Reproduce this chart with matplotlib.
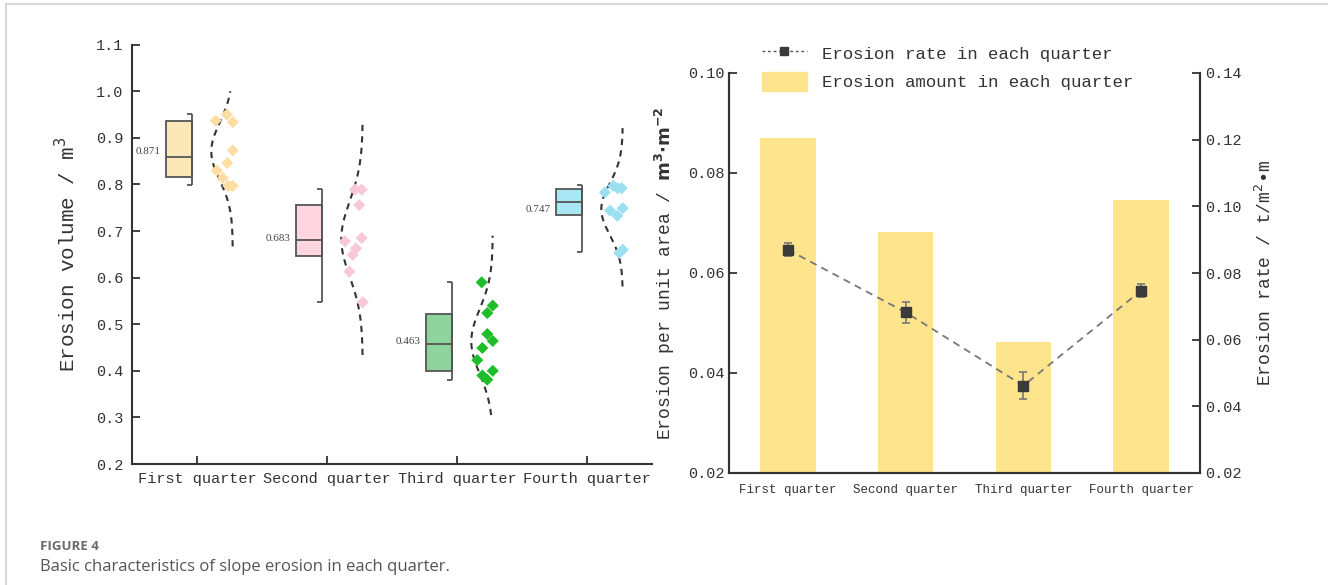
import numpy as np
import matplotlib.pyplot as plt
from matplotlib.lines import Line2D
from matplotlib.patches import Patch

quarters = ['First quarter', 'Second quarter', 'Third quarter', 'Fourth quarter']

# left panel: erosion volume (m3) of each event, per quarter
vol_q1 = [0.937, 0.950, 0.934, 0.873, 0.846, 0.830, 0.814, 0.797, 0.797]
vol_q2 = [0.789, 0.789, 0.756, 0.678, 0.685, 0.663, 0.649, 0.613, 0.547]
vol_q3 = [0.590, 0.540, 0.524, 0.479, 0.464, 0.449, 0.423, 0.400, 0.390, 0.381]
vol_q4 = [0.783, 0.797, 0.792, 0.792, 0.744, 0.733, 0.749, 0.660, 0.653]
volumes = [vol_q1, vol_q2, vol_q3, vol_q4]

# horizontal scatter of the points (offset from the category tick)
jit_q1 = [0.144, 0.229, 0.275, 0.275, 0.233, 0.152, 0.198, 0.241, 0.275]
jit_q2 = [0.215, 0.267, 0.248, 0.138, 0.267, 0.223, 0.198, 0.172, 0.275]
jit_q3 = [0.190, 0.275, 0.233, 0.233, 0.275, 0.195, 0.156, 0.275, 0.195, 0.233]
jit_q4 = [0.138, 0.202, 0.236, 0.267, 0.177, 0.233, 0.275, 0.275, 0.248]
jitters = [jit_q1, jit_q2, jit_q3, jit_q4]

box_q1 = [0.815, 0.647, 0.400, 0.735]
box_q3 = [0.937, 0.756, 0.522, 0.790]
box_med = [0.859, 0.680, 0.457, 0.763]
whisk_lo = [0.798, 0.547, 0.380, 0.654]
whisk_hi = [0.951, 0.790, 0.590, 0.799]
means = [0.871, 0.683, 0.463, 0.747]
curve_lo = [0.667, 0.434, 0.305, 0.581]
curve_hi = [1.000, 0.932, 0.690, 0.921]

box_colors = ['#FDE7B8', '#FDD6E1', '#8FD39F', '#A9E7F5']
pt_colors = ['#FEDDA3', '#F9C8D8', '#1DBE2A', '#9BE0F1']

# right panel
amount = [0.0870, 0.0682, 0.0462, 0.0747]
rate = [0.0870, 0.0682, 0.0462, 0.0747]
rate_err = [0.0020, 0.0032, 0.0040, 0.0020]

mono = 'Liberation Mono'
txt = '#333333'

fig = plt.figure(figsize=(13.28, 5.85), dpi=100)

# ---------------- left panel ----------------
ax = fig.add_axes([132 / 1328, 1 - 464 / 585, 520 / 1328, 419.3 / 585])
pos = np.arange(1, 5)
for i in range(4):
    x = pos[i]
    bl, br = x - 0.24, x - 0.035
    ax.bar(x - 0.1375, box_q3[i] - box_q1[i], bottom=box_q1[i], width=0.205,
           color=box_colors[i], edgecolor='#555555', linewidth=1.3, zorder=2)
    ax.hlines(box_med[i], bl, br, color='#555555', lw=1.3, zorder=3)
    ax.vlines(br, whisk_lo[i], whisk_hi[i], color='#555555', lw=1.3, zorder=3)
    ax.hlines([whisk_lo[i], whisk_hi[i]], br - 0.045, br, color='#555555', lw=1.3, zorder=3)
    ax.text(bl - 0.04, means[i], f'{means[i]:.3f}', ha='right', va='center',
            fontsize=8, family='Liberation Serif', color='#444444')
    # fitted normal curve
    s = np.std(volumes[i], ddof=1)
    yy = np.linspace(curve_lo[i], curve_hi[i], 200)
    xx = x + 0.275 - 0.165 * np.exp(-0.5 * ((yy - means[i]) / s) ** 2)
    ax.plot(xx, yy, color='#333333', lw=1.5, ls=(0, (3, 2.5)), zorder=3)
    ax.scatter(x + np.array(jitters[i]), volumes[i], marker='D', s=38,
               color=pt_colors[i], edgecolors='none', zorder=4)

ax.set_xlim(0.5, 4.5)
ax.set_ylim(0.2, 1.1)
ax.set_yticks(np.arange(0.2, 1.101, 0.1))
ax.set_yticklabels([f'{v:.1f}' for v in np.arange(0.2, 1.101, 0.1)], family=mono, fontsize=11, color=txt)
ax.set_xticks(pos)
ax.set_xticklabels(quarters, family=mono, fontsize=11, color=txt)
ax.tick_params(direction='in', length=6, width=1.3, color='#333333', pad=6)
for sp in ['top', 'right']:
    ax.spines[sp].set_visible(False)
for sp in ['left', 'bottom']:
    ax.spines[sp].set_linewidth(1.5)
    ax.spines[sp].set_color('#333333')
ax.set_ylabel(r'Erosion volume / m$^3$', family=mono, fontsize=15, color=txt, labelpad=12)

# ---------------- right panel ----------------
xs = np.arange(4)
ax2 = fig.add_axes([729 / 1328, 1 - 473 / 585, 471 / 1328, 400 / 585])
ax2.bar(xs, amount, width=0.47, color='#FEE48C', zorder=1)
ax2.set_xlim(-0.5, 3.5)
ax2.set_ylim(0.02, 0.10)
ax2.set_yticks([0.02, 0.04, 0.06, 0.08, 0.10])
ax2.set_yticklabels(['0.02', '0.04', '0.06', '0.08', '0.10'], family=mono, fontsize=11, color=txt)
ax2.set_xticks(xs)
ax2.set_xticklabels(quarters, family=mono, fontsize=9, color=txt)
ax2.tick_params(axis='y', direction='in', length=6, width=1.3, color='#333333')
ax2.tick_params(axis='x', length=0, pad=8)
ax2.set_ylabel(r'Erosion per unit area / $\mathbf{m^3{\cdot}m^{-2}}$', family=mono, fontsize=13, color=txt, labelpad=8)

ax3 = ax2.twinx()
ax3.plot(xs, rate, color='#777777', lw=1.3, ls=(0, (4, 3)), zorder=2)
ax3.errorbar(xs, rate, yerr=rate_err, fmt='s', color='#3A3A3A', ms=7,
             ecolor='#777777', elinewidth=1.2, capsize=3, capthick=1.2, zorder=3)
ax3.set_ylim(0.02, 0.14)
ax3.set_yticks([0.02, 0.04, 0.06, 0.08, 0.10, 0.12, 0.14])
ax3.set_yticklabels([f'{v:.2f}' for v in [0.02, 0.04, 0.06, 0.08, 0.10, 0.12, 0.14]],
                    family=mono, fontsize=11, color=txt)
ax3.tick_params(axis='y', direction='in', length=6, width=1.3, color='#333333')
ax3.set_ylabel(r'Erosion rate / t/m$^2$$\bullet$m', family=mono, fontsize=13, color=txt, labelpad=10)
for a in (ax2, ax3):
    a.spines['top'].set_visible(False)
    for sp in ['left', 'bottom', 'right']:
        a.spines[sp].set_linewidth(1.5)
        a.spines[sp].set_color('#333333')

handles = [Line2D([], [], color='#555555', ls=(0, (2, 2)), lw=1, marker='s', ms=6,
                  markerfacecolor='#3A3A3A', markeredgecolor='#3A3A3A'),
           Patch(color='#FEE48C')]
fig.legend(handles, ['Erosion rate in each quarter', 'Erosion amount in each quarter'],
           loc='upper left', bbox_to_anchor=(746 / 1328, 1 - 28 / 585), frameon=False,
           prop={'family': mono, 'size': 12.5}, labelcolor='#333333',
           handlelength=2.6, handleheight=1.3, labelspacing=0.55, handletextpad=0.9)

# caption and page frame
fig.text(40 / 1328, 1 - 546 / 585, 'FIGURE 4', family='Open Sans', fontsize=9.5,
         fontweight='bold', color='#6A6A6A', va='center')
fig.text(40 / 1328, 1 - 567 / 585, 'Basic characteristics of slope erosion in each quarter.',
         family='Open Sans', fontsize=12, color='#555555', va='center')
fig.add_artist(Line2D([6 / 1328, 6 / 1328], [0, 1 - 4 / 585], color='#D0D0D0', lw=1.2))
fig.add_artist(Line2D([6 / 1328, 1], [1 - 4 / 585, 1 - 4 / 585], color='#D0D0D0', lw=1.2))

fig.savefig('out.png', dpi=100)
